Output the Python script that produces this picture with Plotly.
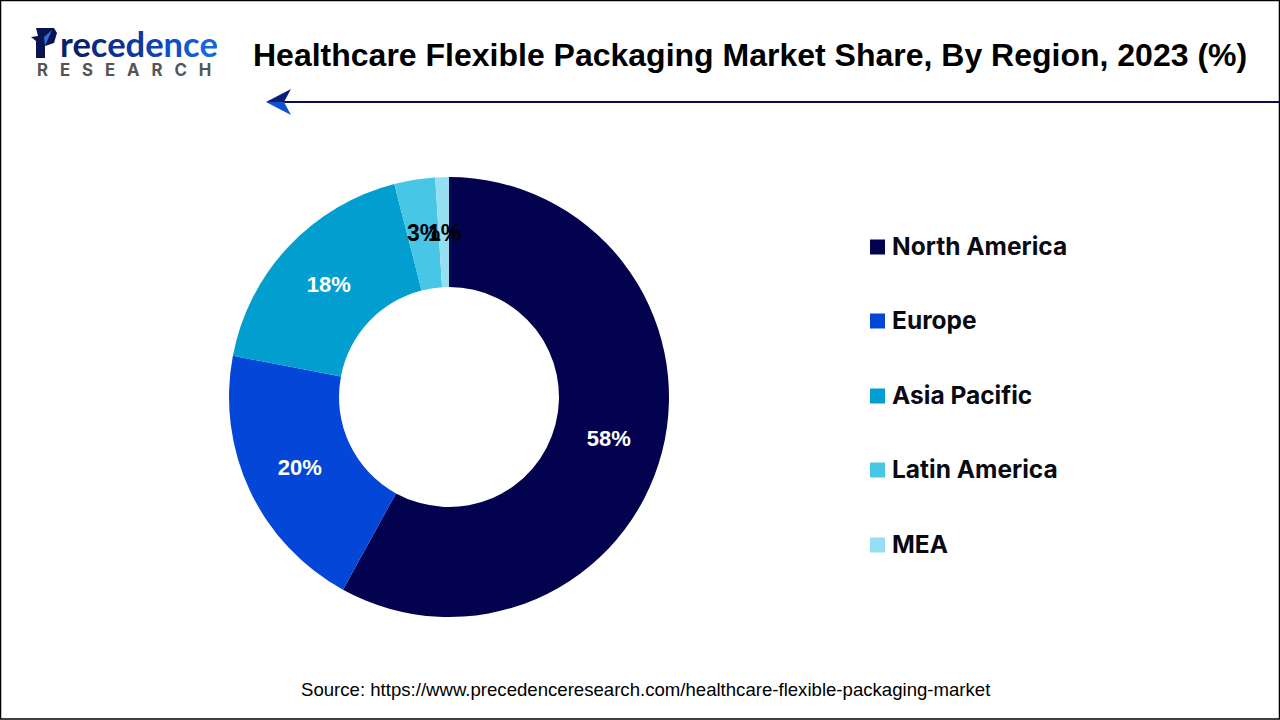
import plotly.graph_objects as go

W = 1280
H = 720

regions = ["North America", "Europe", "Asia Pacific", "Latin America", "MEA"]
shares = [58, 20, 18, 3, 1]
colors = ["#02024f", "#0346d8", "#029ed0", "#48c6e6", "#96dff1"]
label_colors = ["white", "white", "white", "black", "black"]

title = "Healthcare Flexible Packaging Market Share, By Region, 2023 (%)"
source = "Source: https://www.precedenceresearch.com/healthcare-flexible-packaging-market"
logo_letters = list("recedence")
logo_colors = ["#0b1f6b", "#0b1f6b", "#0d2a80", "#0d2f92", "#0e389f", "#0f42b0", "#1050c4", "#115bd0", "#1268dc"]


# pixel helpers, everything else is placed in paper coords
def px(x):
    return x / W


def py(y):
    return 1 - y / H


def path(points):
    return "M " + " L ".join(f"{px(x):.5f},{py(y):.5f}" for x, y in points) + " Z"


fig = go.Figure()
fig.add_trace(go.Pie(
    labels=regions,
    values=shares,
    text=[f"{s}%" for s in shares],
    textinfo="text",
    # the two thin slices get their labels below, plotly would push them out of the ring
    textposition=["inside", "inside", "inside", "none", "none"],
    insidetextorientation="horizontal",
    textfont=dict(family="Liberation Sans", size=22, color=label_colors, weight="bold"),
    marker=dict(colors=colors, line=dict(width=0)),
    hole=0.5,
    sort=False,
    direction="clockwise",
    rotation=0,
    domain=dict(x=[px(229), px(669)], y=[py(617), py(177)]),
    showlegend=False,
))

shapes = []
annotations = []

for share, x in zip(shares[3:], [423, 444]):
    annotations.append(dict(text=f"<b>{share}%</b>", x=px(x), y=py(233), xref="paper", yref="paper",
                            xanchor="center", yanchor="middle", showarrow=False,
                            font=dict(family="Liberation Sans", size=23, color="black")))

# legend, drawn by hand because of the wide row spacing
legend_y = [247, 321, 396, 470, 545]
for name, color, y in zip(regions, colors, legend_y):
    shapes.append(dict(type="rect", xref="paper", yref="paper", x0=px(870), x1=px(885),
                       y0=py(y + 7.5), y1=py(y - 7.5), fillcolor=color, line_width=0))
    annotations.append(dict(text=name, x=px(890), y=py(y - 1), xref="paper", yref="paper",
                            xanchor="left", yanchor="middle", showarrow=False,
                            font=dict(family="Inter", size=24.5, color="#0a0a14", weight="bold")))

# title and source
annotations.append(dict(text=f"<b>{title}</b>", x=px(750), y=py(55), xref="paper", yref="paper",
                        xanchor="center", yanchor="middle", showarrow=False,
                        font=dict(family="Liberation Sans", size=32, color="black")))
annotations.append(dict(text=source, x=px(645.5), y=py(689), xref="paper", yref="paper",
                        xanchor="center", yanchor="middle", showarrow=False,
                        font=dict(family="Liberation Sans", size=18.6, color="black")))

# logo
logo_text = "".join(f'<span style="color:{c}">{l}</span>' for l, c in zip(logo_letters, logo_colors))
annotations.append(dict(text=f"<b>{logo_text}</b>", x=px(139), y=py(43), xref="paper", yref="paper",
                        xanchor="center", yanchor="middle", showarrow=False,
                        font=dict(family="Lato", size=34.5)))
annotations.append(dict(text="R   E   S   E   A   R   C   H", x=px(124), y=py(70.5), xref="paper", yref="paper",
                        xanchor="center", yanchor="middle", showarrow=False,
                        font=dict(family="Inter", size=16.8, color="#555555", weight="bold")))
shapes.append(dict(type="path", xref="paper", yref="paper", fillcolor="#0b1452", line_width=0,
                   path=path([(36, 28), (54, 28), (57, 33), (54, 43), (45, 46), (45, 58), (36, 58), (36, 41), (31, 37), (38, 36)])))
shapes.append(dict(type="path", xref="paper", yref="paper", fillcolor="#2f6fd8", line_width=0,
                   path=path([(52, 30), (45, 46), (44, 37)])))

# arrow under the title
shapes.append(dict(type="line", xref="paper", yref="paper", x0=px(284), x1=px(1280), y0=py(102), y1=py(102),
                   line=dict(color="#0b0b50", width=2)))
shapes.append(dict(type="path", xref="paper", yref="paper", fillcolor="#0b1f7a", line_width=0,
                   path=path([(266, 102), (291, 89), (284, 102)])))
shapes.append(dict(type="path", xref="paper", yref="paper", fillcolor="#1250d0", line_width=0,
                   path=path([(266, 102), (291, 115), (284, 102)])))

# outer frame
shapes.append(dict(type="rect", xref="paper", yref="paper", x0=px(0.5), x1=px(1279.5), y0=py(719), y1=py(0.5),
                   line=dict(color="black", width=1.5), fillcolor="rgba(0,0,0,0)"))

fig.update_layout(
    width=W,
    height=H,
    margin=dict(l=0, r=0, t=0, b=0),
    paper_bgcolor="white",
    plot_bgcolor="white",
    uniformtext=dict(minsize=22, mode="show"),
    shapes=shapes,
    annotations=annotations,
)

fig.write_html("out.html", config=dict(displayModeBar=False), post_script="document.body.style.margin = '0';")
